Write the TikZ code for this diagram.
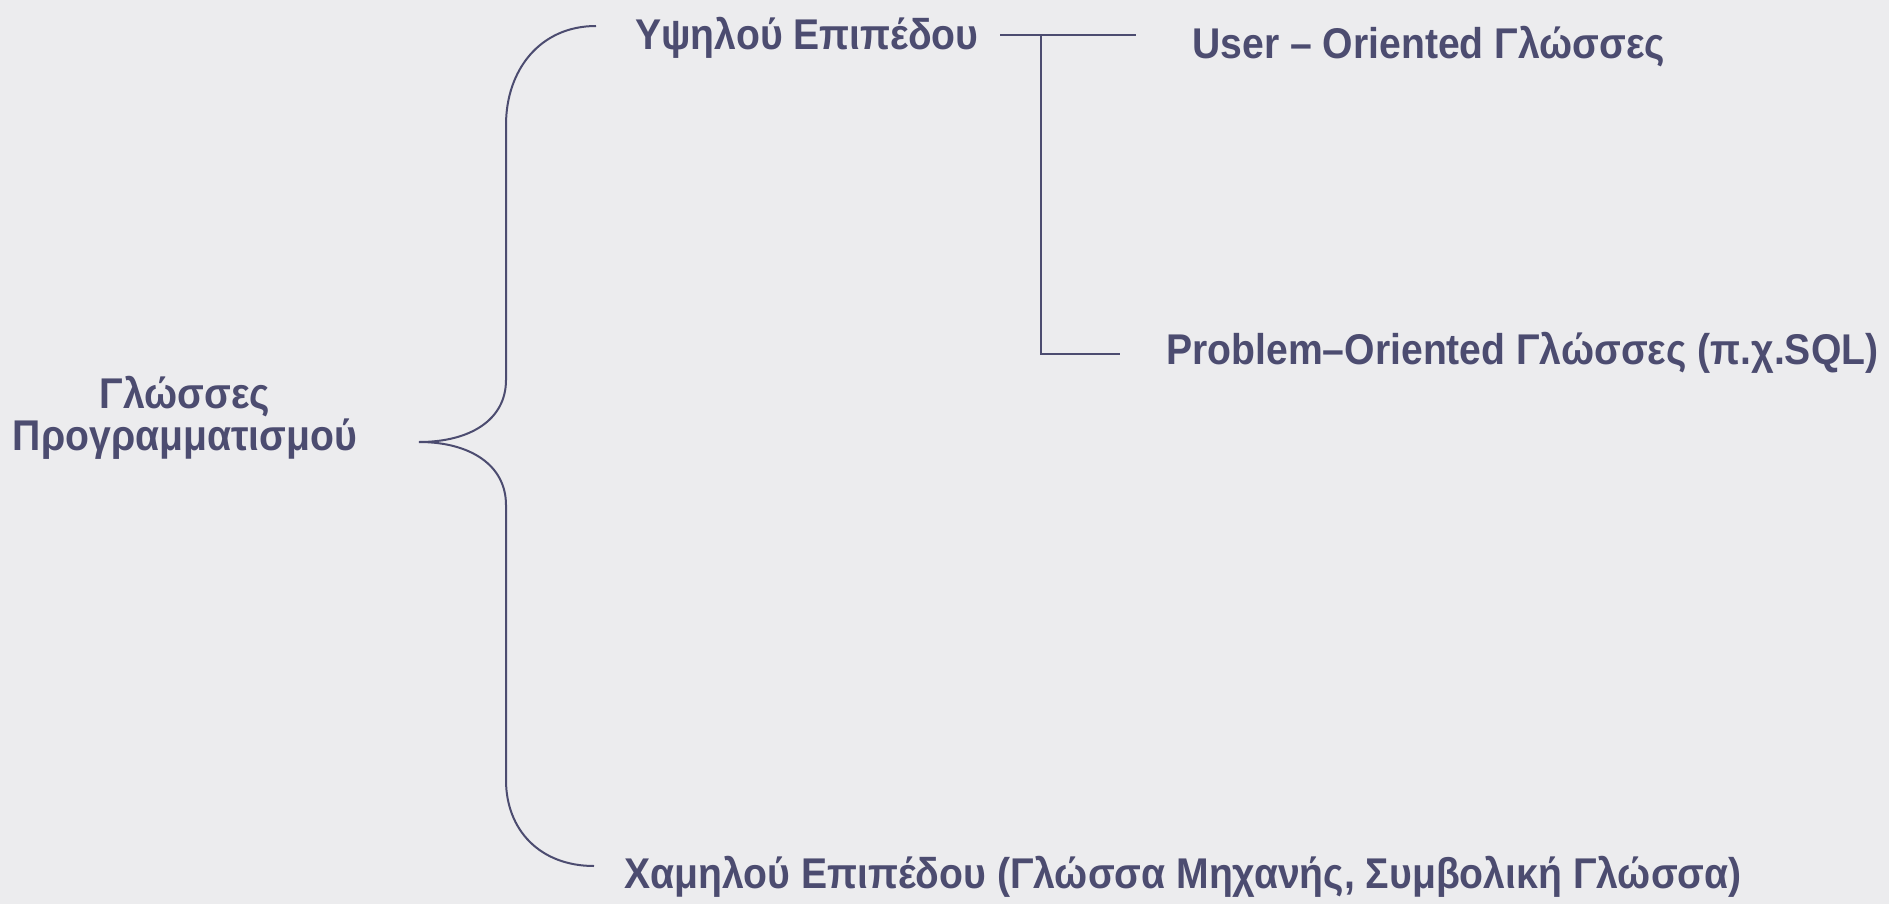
\documentclass[tikz,border=0pt]{standalone}
\usepackage{fontspec}
\setmainfont{Liberation Sans}[FakeStretch=0.91]
\usepackage{tikz}
\usetikzlibrary{positioning,calc}

\definecolor{ink}{RGB}{76,76,112}
\definecolor{paper}{RGB}{236,236,238}

\begin{document}
\begin{tikzpicture}[
    x=0.5pt, y=-0.5pt,
    label/.style={inner sep=0pt, anchor=base west, text=ink, font=\fontsize{21.5}{21}\selectfont\bfseries},
    link/.style={draw=ink, line width=1pt}
]

% page
\fill[paper] (0,0) rectangle (1889,904);
\useasboundingbox (0,0) rectangle (1889,904);

% root
\node[label, anchor=center, align=center] (root) at (185,418) {Γλώσσες\\Προγραμματισμού};

% levels
\node[label] (high) at (635,50) {Υψηλού Επιπέδου};
\node[label] (low) at (624,888) {Χαμηλού Επιπέδου (Γλώσσα Μηχανής, Συμβολική Γλώσσα)};

% high level kinds
\node[label] (user) at (1192,59) {User – Oriented Γλώσσες};
\node[label] (problem) at (1166,364) {Problem–Oriented Γλώσσες (π.χ.SQL)};

% brace
\coordinate (tip) at (419,442);
\draw[link] (596,26) .. controls (540,26) and (506,70) .. (506,125)
    -- (506,380) .. controls (506,420) and (470,442) .. (tip)
    .. controls (470,442) and (506,465) .. (506,505)
    -- (506,780) .. controls (506,830) and (540,866) .. (594,866);

% tree of the high level
\coordinate (fork) at (1041,35);
\coordinate (highend) at ($(high.east |- fork)+(21,0)$);
\coordinate (userend) at ($(user.west |- fork)+(-56,0)$);
\coordinate (probend) at ($(problem.west |- 0,354)+(-46,0)$);
\draw[link] (highend) -- (userend);
\draw[link] (fork) |- (probend);

\end{tikzpicture}
\end{document}
